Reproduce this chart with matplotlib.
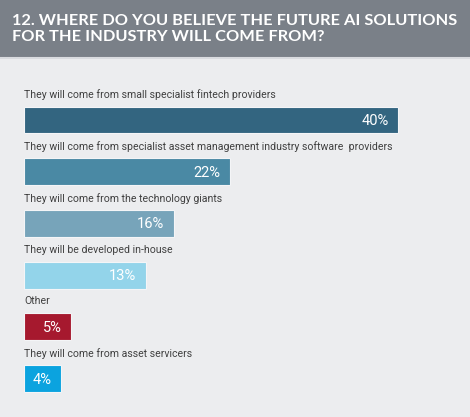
import matplotlib.pyplot as plt

# data
labels = [
    "They will come from small specialist fintech providers",
    "They will come from specialist asset management industry software  providers",
    "They will come from the technology giants",
    "They will be developed in-house",
    "Other",
    "They will come from asset servicers",
]
values = [40, 22, 16, 13, 5, 4]
colors = ["#336580", "#4A89A4", "#77A4BA", "#93D4EA", "#A6192E", "#0BA3DF"]

title_lines = ["12. WHERE DO YOU BELIEVE THE FUTURE AI SOLUTIONS",
               "FOR THE INDUSTRY WILL COME FROM?"]

bg = "#ECEDEF"
W, H = 470, 417

fig = plt.figure(figsize=(W / 100, H / 100), dpi=100, facecolor=bg)
renderer = fig.canvas.get_renderer()


def fit(txt, width_px):
    # shrink/grow font so the text spans width_px pixels
    w = txt.get_window_extent(renderer).width
    txt.set_fontsize(txt.get_fontsize() * width_px / w)


# header band
hdr = fig.add_axes([0, 1 - 57 / H, 1, 57 / H])
hdr.set_facecolor("#7A8088")
hdr.set_xticks([]); hdr.set_yticks([])
for s in hdr.spines.values():
    s.set_visible(False)
t1 = hdr.text(12 / W, 0.64, title_lines[0], transform=hdr.transAxes, color="white",
              fontsize=11, fontweight="bold", family="Lato", va="center", ha="left")
fit(t1, 442)
t2 = hdr.text(12 / W, 0.345, title_lines[1], transform=hdr.transAxes, color="white",
              fontsize=t1.get_fontsize(), fontweight="bold", family="Lato",
              va="center", ha="left")

# thin light line under header
fig.add_artist(plt.Line2D([0, 1], [1 - 58 / H, 1 - 58 / H], color="#D9DBDF", lw=1.5))

# main bars
ax = fig.add_axes([24 / W, 0, 1 - 24 / W, 1 - 57 / H])
ax.set_facecolor(bg)
for s in ax.spines.values():
    s.set_visible(False)
ax.set_xticks([]); ax.set_yticks([])

ypos = list(range(len(values)))
ax.barh(ypos, values, height=0.52, color=colors, edgecolor="#F4F5F7", linewidth=0.8)
ax.set_xlim(0, 40 * (W - 24) / 374)
ax.set_ylim(5.745, -1.22)

label_texts = []
for y, v, lab in zip(ypos, values, labels):
    label_texts.append(ax.text(0, y - 0.49, lab, va="center", ha="left", fontsize=8,
                               color="#404040", family="Roboto"))
    ax.text(v - 1.0, y + 0.02, f"{v}%", va="center", ha="right",
            fontsize=10.5, color="white", family="Roboto")

# the longest label spans about 367 px in the reference
fit(label_texts[1], 367)
for t in label_texts:
    t.set_fontsize(label_texts[1].get_fontsize())

fig.savefig("out.png", dpi=100, facecolor=bg)
